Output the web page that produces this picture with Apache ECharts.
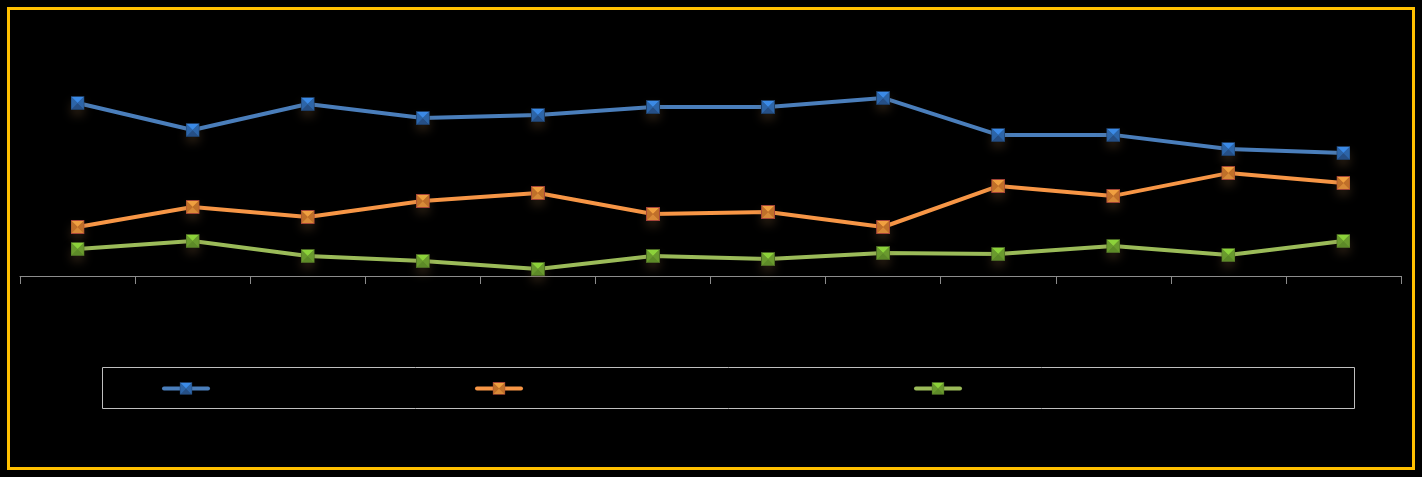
<!DOCTYPE html>
<html><head><meta charset="utf-8">
<script src="https://cdn.jsdelivr.net/npm/echarts@6/dist/echarts.min.js"></script>
<style>html,body{margin:0;padding:0;background:#000}#c{width:1422px;height:477px}</style>
</head><body><div id="c"></div>
<script>
const categories = ['1','2','3','4','5','6','7','8','9','10','11','12'];
const seriesNames = ['Series A', 'Series B (longer name)', 'Series C'];
const blueValues = [70.6, 59.6, 70.2, 64.5, 65.7, 69.0, 69.0, 72.7, 57.6, 57.6, 51.8, 50.2];
const orangeValues = [20.0, 28.2, 24.1, 30.6, 33.9, 25.3, 26.1, 20.0, 36.7, 32.7, 42.0, 38.0];
const greenValues = [11.0, 14.3, 8.2, 6.1, 2.9, 8.2, 6.9, 9.4, 9.0, 12.2, 8.6, 14.3];

function marker(border, top, side, bottom) {
  const svg = `<svg xmlns="http://www.w3.org/2000/svg" width="14" height="14" viewBox="0 0 14 14">
<rect x="0.5" y="0.5" width="13" height="13" fill="${side}" stroke="${border}" stroke-width="1"/>
<polygon points="1,1 13,1 7,7" fill="${top}"/>
<polygon points="1,13 13,13 7,7" fill="${bottom}"/>
<polygon points="1,1 1,13 7,7" fill="${side}"/>
<polygon points="13,1 13,13 7,7" fill="${side}"/>
</svg>`;
  return 'image://data:image/svg+xml;base64,' + btoa(svg);
}
const mBlue = marker('#1f3f66', '#3b8ae6', '#2d65a8', '#264f85');
const mOrange = marker('#a8453a', '#f0a040', '#c0702a', '#d88a38');
const mGreen = marker('#4d6b25', '#8cd23a', '#6a9a2e', '#5d8a28');

function mk(name, data, color, sym) {
  return {
    name, type: 'line', data,
    symbol: sym, symbolSize: 14,
    lineStyle: { color, width: 4 },
    itemStyle: { color, shadowBlur: 10, shadowColor: 'rgba(110,80,50,0.35)', shadowOffsetY: 6 },
    label: { show: false },
    emphasis: { disabled: true },
    z: 2
  };
}

const legendBase = { top: 377, itemWidth: 44, itemHeight: 16, textStyle: { color: '#000' }, selectedMode: false,
  lineStyle: { width: 4, cap: 'round' }, itemStyle: { shadowBlur: 0 } };

const chart = echarts.init(document.getElementById('c'));
chart.setOption({
  backgroundColor: '#000',
  animation: false,
  grid: { left: 20, right: 21, top: 31, bottom: 201 },
  xAxis: {
    type: 'category', data: categories, boundaryGap: true,
    axisLine: { lineStyle: { color: '#8c8c8c', width: 1 } },
    axisTick: { show: true, length: 8, lineStyle: { color: '#8c8c8c' } },
    axisLabel: { show: false }
  },
  yAxis: { type: 'value', min: 0, max: 100, show: false, splitLine: { show: false } },
  legend: [
    Object.assign({ data: [seriesNames[0]], left: 157 }, legendBase),
    Object.assign({ data: [seriesNames[1]], left: 470 }, legendBase),
    Object.assign({ data: [seriesNames[2]], left: 909 }, legendBase)
  ],
  graphic: [
    { type: 'rect', z: 100, shape: { x: 8.5, y: 8.5, width: 1405, height: 460 }, style: { fill: 'none', stroke: '#ffc000', lineWidth: 3 }, silent: true },
    { type: 'rect', z: 100, shape: { x: 102.5, y: 367.5, width: 1252, height: 41 }, style: { fill: 'none', stroke: '#bfbfbf', lineWidth: 1 }, silent: true }
  ],
  series: [
    mk(seriesNames[0], blueValues, '#4a7ebb', mBlue),
    mk(seriesNames[1], orangeValues, '#f79646', mOrange),
    mk(seriesNames[2], greenValues, '#9bbb59', mGreen)
  ]
});
</script></body></html>
